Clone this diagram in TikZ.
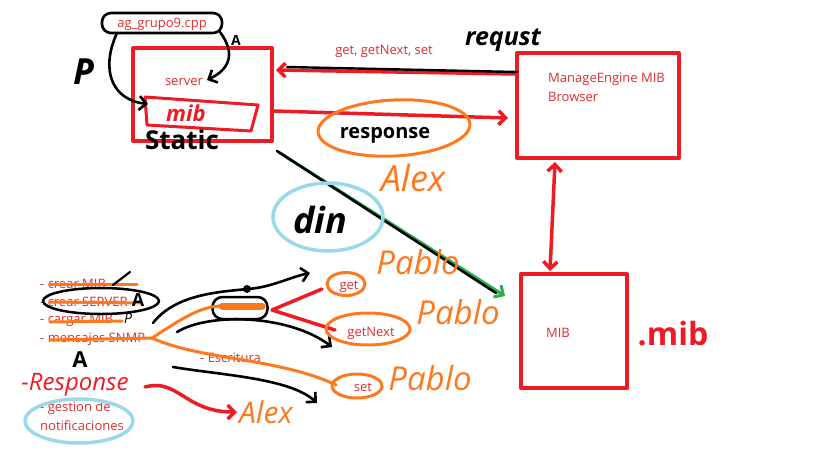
\documentclass[tikz,border=0pt]{standalone}
\usepackage{fontspec}
\setmainfont{Open Sans}
\usetikzlibrary{arrows.meta,shapes.geometric}
\definecolor{pred}{RGB}{237,28,36}
\definecolor{porange}{RGB}{255,120,30}
\definecolor{pblue}{RGB}{153,217,234}
\definecolor{pgreen}{RGB}{34,177,76}
\definecolor{tred}{RGB}{222,45,45}
\begin{document}
\begin{tikzpicture}[x=1pt,y=-1pt,line cap=round,line join=round,
  redbox/.style={draw=pred,line width=4pt,inner sep=0pt},
  lbl/.style={text=tred,font=\fontsize{13}{18.5}\selectfont,inner sep=0pt},
  hw/.style={inner sep=0pt},
  blk/.style={draw=black,line width=2.6pt},
  org/.style={draw=porange,line width=3pt},
  rd/.style={draw=pred,line width=3.5pt},
  oval/.style={ellipse,inner sep=0pt},
  barb/.tip={Straight Barb[length=7pt,width=14pt]}]
\useasboundingbox (0,0) rectangle (818,460);

% ---- boxes
\node[redbox,minimum width=139pt,minimum height=93pt] (server) at (202.5,94.5) {};
\node[redbox,minimum width=162pt,minimum height=105pt] (me) at (598,105.5) {};
\node[redbox,minimum width=106pt,minimum height=114pt] (mib) at (574,331) {};

\node[lbl] (serverlbl) at (184,82) {server};
\node[lbl,anchor=west,align=left] (melbl) at (548,87.5) {ManageEngine MIB\\Browser};
\node[lbl] (miblbl) at (558,333) {MIB};

% ---- cpp file
\node[draw,line width=2.6pt,rounded corners=9pt,minimum width=120pt,minimum height=20pt,inner sep=0pt] (cppbox) at (162,23) {};
\node[lbl] (cpp) at (162,24) {ag\_grupo9.cpp};

% inner mib
\draw[rd,line width=3pt] (145,97) -- (258,105) -- (251,131) -- (147,125) -- cycle;
\node[hw,text=pred,font=\bfseries\itshape\fontsize{22}{22}\selectfont] (mibtxt) at (186,113) {mib};
\node[hw,font=\bfseries\fontsize{26}{26}\selectfont] (static) at (182,140) {Static};
\node[hw,font=\bfseries\fontsize{36}{36}\selectfont\itshape] (P1) at (84,72) {P};
\node[hw,font=\bfseries\fontsize{14}{14}\selectfont] (A1) at (236,40) {A};

\coordinate (c1s) at (117,33);
\coordinate (c1e) at (148,104);
\coordinate (c2s) at (220,32);
\coordinate (c2e) at (207,80);
\draw[blk,-barb] (c1s) .. controls (100,70) and (112,100) .. (c1e);
\draw[blk,-barb] (c2s) .. controls (237,55) and (228,70) .. (c2e);

% ---- request / response
\coordinate (rqs) at (517,74);
\coordinate (rqe) at (276,70);
\draw[rd,-barb] (rqs) -- (rqe);
\draw[blk,line width=2.4pt] (rqs) ++(0,-2) -- (287,67);
\node[lbl] (getlbl) at (384,51) {get, getNext, set};
\node[hw,font=\bfseries\fontsize{25}{25}\selectfont\itshape] (requst) at (503,40) {requst};

\coordinate (rss) at (274,111);
\coordinate (rse) at (508,118);
\draw[rd,-barb] (rss) -- (rse);
\node[draw=porange,line width=3pt,oval,minimum width=152pt,minimum height=56pt,rotate=3] (respov) at (394,128) {};
\node[hw,font=\bfseries\fontsize{20}{20}\selectfont] (resp) at (385,135) {response};
\node[hw,text=porange,font=\fontsize{36}{36}\selectfont\itshape] (alex1) at (413,178) {Alex};

% ---- double arrow
\coordinate (dtop) at (555,162);
\coordinate (dbot) at (550,271);
\draw[rd,barb-barb] (dtop) -- (dbot);
\node[hw,text=pred,font=\bfseries\fontsize{32}{32}\selectfont] (dotmib) at (673,334) {.mib};

% ---- diagonal
\coordinate (dgs) at (280,153);
\coordinate (dge) at (505,296);
\draw[draw=pgreen,line width=3pt,-barb] (dgs) -- (dge);
\draw[blk,line width=2.6pt] (277,151) -- (496,293);
\node[draw=pblue,line width=3.5pt,oval,minimum width=110pt,minimum height=68pt] (dinov) at (328,217) {};
\node[hw,font=\bfseries\itshape\fontsize{36}{36}\selectfont] (din) at (320,220) {din};

\node[hw,text=porange,font=\fontsize{33}{33}\selectfont\itshape] (pablo1) at (418,262) {Pablo};
\node[hw,text=porange,font=\fontsize{33}{33}\selectfont\itshape] (pablo2) at (458,312) {Pablo};
\node[hw,text=porange,font=\fontsize{33}{33}\selectfont\itshape] (pablo3) at (430,378) {Pablo};

% ---- list
\node[lbl,anchor=west] (l1) at (40,284) {- crear MIB};
\node[lbl,anchor=west] (l2) at (40,302) {- crear SERVER};
\node[lbl,anchor=west] (l3) at (40,320) {- cargar MIB};
\node[lbl,anchor=west] (l4) at (40,339) {- mensajes SNMP};
\draw[org] (50,284) -- (137,284);
\draw[org] (50,302) -- (140,303);
\draw[org] (50,322) -- (122,321);
\draw[org] (50,340) -- (153,338);
\node[draw,line width=2.5pt,oval,minimum width=116pt,minimum height=26pt] (l2ov) at (101,301) {};
\draw[blk,line width=2.2pt] (113,285) -- (130,272);
\node[hw,font=\bfseries\fontsize{18}{18}\selectfont] (A2) at (138,300) {A};
\node[hw,font=\fontsize{14}{14}\selectfont\itshape] (P2) at (128,318) {P};
\node[hw,font=\bfseries\fontsize{22}{22}\selectfont] (A3) at (80,360) {A};

\node[lbl,anchor=west] (esc) at (200,358) {- Escritura};

% small oval with dot
\node[draw,line width=2.5pt,rounded corners=10pt,minimum width=55pt,minimum height=22pt,inner sep=0pt] (lectov) at (240,308) {};
\fill (247,289) circle (4pt);

% black fan
\coordinate (b1s) at (153,323);
\coordinate (b1e) at (310,273);
\coordinate (b2s) at (177,332);
\coordinate (b2e) at (332,347);
\coordinate (b3s) at (173,367);
\coordinate (b3e) at (317,403);
\draw[blk,-barb] (b1s) .. controls (180,288) and (240,292) .. (262,287) .. controls (280,283) and (295,276) .. (b1e);
\draw[blk,-barb] (b2s) .. controls (210,312) and (290,315) .. (b2e);
\draw[blk,-barb] (b3s) .. controls (220,375) and (290,378) .. (b3e);

% orange fan
\coordinate (ofs) at (152,338);
\draw[org] (ofs) .. controls (180,320) and (200,306) .. (222,306);
\draw[draw=porange,line width=7pt] (222,306) -- (262,306);
\draw[org] (ofs) .. controls (200,360) and (280,358) .. (336,385);

% get / getNext / set
\coordinate (ra) at (322,289);
\coordinate (rb) at (272,310);
\coordinate (rc) at (335,330);
\draw[rd] (ra) -- (rb) -- (rc);
\node[draw=porange,line width=3pt,oval,minimum width=38pt,minimum height=23pt] (getov) at (346,284) {};
\node[lbl] (get) at (349,287) {get};
\node[draw=porange,line width=3pt,oval,minimum width=84pt,minimum height=32pt] (gnov) at (368,329) {};
\node[lbl] (getnext) at (371,333) {getNext};
\node[draw=porange,line width=3pt,oval,minimum width=50pt,minimum height=24pt] (setov) at (357,386) {};
\node[lbl] (set) at (363,387) {set};

% response / notificaciones
\node[hw,text=pred,font=\fontsize{24}{24}\selectfont\itshape] (respl) at (75,385) {-Response};
\node[lbl,anchor=west,align=left] (gest) at (40,416) {- gestion de\\notificaciones};
\node[draw=pblue,line width=3.5pt,oval,minimum width=108pt,minimum height=44pt] (gestov) at (79,421) {};
\coordinate (rcs) at (145,387);
\coordinate (rce) at (237,412);
\draw[rd,-barb] (rcs) .. controls (178,378) and (185,412) .. (rce);
\node[hw,text=porange,font=\fontsize{30}{30}\selectfont\itshape] (alex2) at (266,412) {Alex};
\end{tikzpicture}
\end{document}
